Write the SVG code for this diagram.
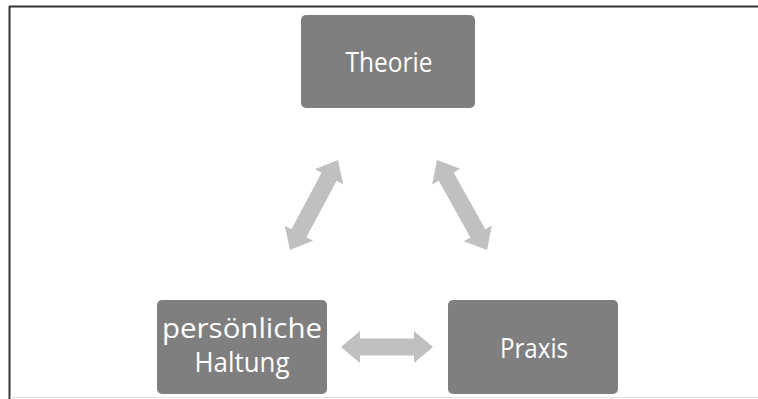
<svg xmlns="http://www.w3.org/2000/svg" width="758" height="399" viewBox="0 0 758 399">
<style>
.box{fill:#7f7f7f}
.lbl{fill:#ffffff;font-family:"Open Sans","Liberation Sans",sans-serif;font-size:27px;text-anchor:middle}
.arr{fill:#c0c0c0}
</style>
<rect x="0" y="0" width="758" height="399" fill="#ffffff"/>
<line x1="9.5" y1="6" x2="9.5" y2="399" stroke="#333" stroke-width="2"/>
<line x1="9" y1="6.5" x2="758" y2="6.5" stroke="#333" stroke-width="2"/>
<line x1="10" y1="397.5" x2="758" y2="397.5" stroke="#e0e0e0" stroke-width="1"/>
<g id="connectors">
<polygon class="arr" transform="translate(314,205) rotate(-61.9)" points="-51,0 -32,-16 -32,-8.5 32,-8.5 32,-16 51,0 32,16 32,8.5 -32,8.5 -32,16"/>
<polygon class="arr" transform="translate(462,205) rotate(60.9)" points="-51.5,0 -32.5,-16 -32.5,-8.5 32.5,-8.5 32.5,-16 51.5,0 32.5,16 32.5,8.5 -32.5,8.5 -32.5,16"/>
<polygon class="arr" transform="translate(387,347)" points="-46,0 -27,-16 -27,-8.5 27,-8.5 27,-16 46,0 27,16 27,8.5 -27,8.5 -27,16"/>
</g>
<g id="theorie">
<rect class="box" x="301" y="15" width="174" height="93" rx="5"/>
<text class="lbl" x="389" y="72" textLength="87" lengthAdjust="spacingAndGlyphs">Theorie</text>
</g>
<g id="haltung">
<rect class="box" x="157" y="300" width="170" height="94" rx="5"/>
<text class="lbl" x="242" y="338" textLength="160" lengthAdjust="spacingAndGlyphs">persönliche</text>
<text class="lbl" x="242" y="372" textLength="95" lengthAdjust="spacingAndGlyphs">Haltung</text>
</g>
<g id="praxis">
<rect class="box" x="448" y="300" width="170" height="94" rx="5"/>
<text class="lbl" x="534" y="358" textLength="68" lengthAdjust="spacingAndGlyphs">Praxis</text>
</g>
</svg>
